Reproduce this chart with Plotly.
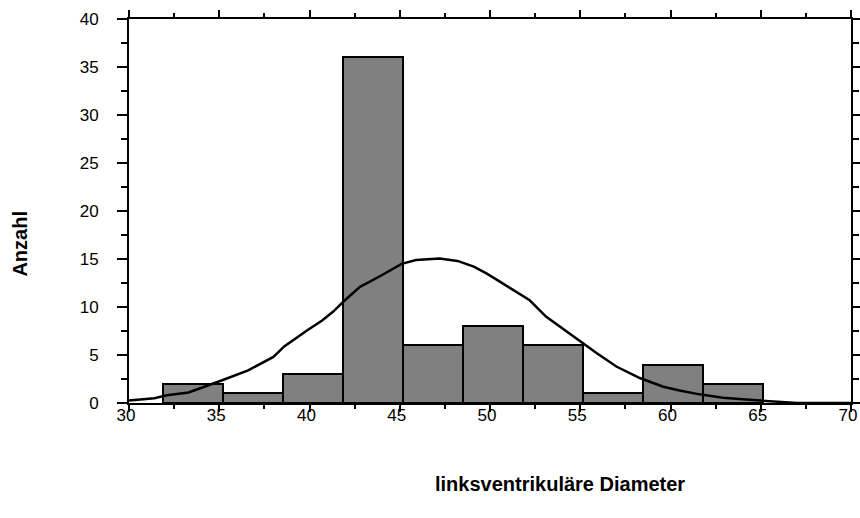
import plotly.graph_objects as go

# ---- data ----
bin_start = 31.9
bin_width = 3.32
counts = [2, 1, 3, 36, 6, 8, 6, 1, 4, 2]

curve_x = [30.0, 31.4, 32.1, 33.3, 35.2, 36.6, 38.0, 38.6, 39.9, 40.7, 41.3, 41.9,
           42.8, 43.9, 45.1, 45.9, 47.2, 48.2, 49.1, 49.8, 50.5, 51.6, 52.2, 53.1,
           55.0, 55.9, 57.0, 58.3, 59.6, 60.5, 61.6, 62.9, 64.0, 65.0, 66.2, 67.0, 70.0]
curve_y = [0.25, 0.5, 0.8, 1.1, 2.4, 3.4, 4.8, 5.9, 7.6, 8.6, 9.5, 10.6,
           12.1, 13.2, 14.5, 14.9, 15.05, 14.8, 14.2, 13.5, 12.7, 11.4, 10.7, 9.0,
           6.4, 5.2, 3.8, 2.6, 1.7, 1.3, 0.9, 0.55, 0.38, 0.24, 0.08, 0.0, 0.0]

x_ticks = [30, 35, 40, 45, 50, 55, 60, 65, 70]
y_ticks = [0, 5, 10, 15, 20, 25, 30, 35, 40]
x_title = "linksventrikuläre Diameter"
y_title = "Anzahl"

centers = [bin_start + bin_width * (i + 0.5) for i in range(len(counts))]

FONT = "Liberation Sans, Arial, Helvetica, sans-serif"

fig = go.Figure()
fig.add_trace(go.Bar(
    x=centers, y=counts, width=bin_width,
    marker=dict(color="#808080", line=dict(color="black", width=2)),
    showlegend=False, hoverinfo="skip",
))
fig.add_trace(go.Scatter(
    x=curve_x, y=curve_y, mode="lines",
    line=dict(color="black", width=2.5),
    showlegend=False, hoverinfo="skip",
))
# invisible trace to carry the label-only x axis
fig.add_trace(go.Scatter(x=[30, 70], y=[0, 0], xaxis="x2", mode="lines",
                         line=dict(width=0), showlegend=False, hoverinfo="skip"))

fig.update_layout(
    width=860, height=518,
    margin=dict(l=129, r=9, t=19, b=115, autoexpand=False),
    paper_bgcolor="white", plot_bgcolor="white",
    font=dict(family=FONT, size=17, color="black"),
    bargap=0,
    xaxis=dict(
        range=[30, 70], tickvals=x_ticks, showticklabels=False,
        ticks="outside", ticklen=7, tickwidth=2, tickcolor="black",
        minor=dict(dtick=2.5, tick0=30, ticks="outside", ticklen=4, tickwidth=2, tickcolor="black"),
        showline=True, linewidth=2, linecolor="black", mirror="ticks",
        showgrid=False, zeroline=False, fixedrange=True, automargin=False,
    ),
    xaxis2=dict(
        range=[30, 70], tickvals=x_ticks, ticktext=[str(v) for v in x_ticks],
        overlaying="x", side="bottom", anchor="y",
        ticks="", showline=False, showgrid=False, zeroline=False, automargin=False,
        ticklabeloverflow="allow", ticklabelshift=-3,
        tickfont=dict(family=FONT, size=17, color="black"),
    ),
    yaxis=dict(
        range=[0, 40], tickvals=y_ticks, ticktext=[str(v) for v in y_ticks],
        ticks="outside", ticklen=10, tickwidth=2, tickcolor="black",
        minor=dict(dtick=2.5, tick0=0, ticks="outside", ticklen=6, tickwidth=2, tickcolor="black"),
        showline=True, linewidth=2, linecolor="black", mirror="ticks",
        showgrid=False, zeroline=False, fixedrange=True, automargin=False,
        ticklabelstandoff=15, ticklabeloverflow="allow",
        tickfont=dict(family=FONT, size=17, color="black"),
    ),
    annotations=[
        dict(text="<b>" + y_title + "</b>", xref="paper", yref="paper",
             x=-0.151, y=0.415, xanchor="center", yanchor="middle",
             textangle=-90, showarrow=False,
             font=dict(family=FONT, size=20, color="black")),
        dict(text="<b>" + x_title + "</b>", xref="paper", yref="paper",
             x=0.597, y=-0.211, xanchor="center", yanchor="middle", showarrow=False,
             font=dict(family=FONT, size=20, color="black")),
    ],
)

fig.write_html("out.html")
